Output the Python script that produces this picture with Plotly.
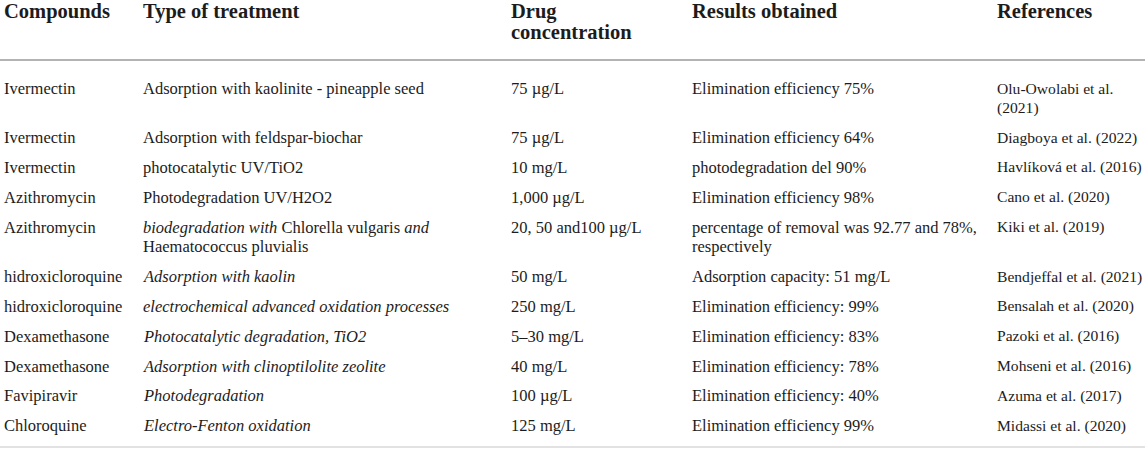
import plotly.graph_objects as go

# table content, one entry per row
headers = ["Compounds", "Type of treatment", "Drug<br>concentration", "Results obtained", "References"]

compounds = [
    "Ivermectin", "Ivermectin", "Ivermectin", "Azithromycin", "Azithromycin",
    "hidroxicloroquine", "hidroxicloroquine", "Dexamethasone", "Dexamethasone",
    "Favipiravir", "Chloroquine",
]
treatments = [
    "Adsorption with kaolinite - pineapple seed",
    "Adsorption with feldspar-biochar",
    "photocatalytic UV/TiO2",
    "Photodegradation UV/H2O2",
    "<i>biodegradation with</i> Chlorella vulgaris <i>and</i><br>Haematococcus pluvialis",
    "<i>Adsorption with kaolin</i>",
    "<i>electrochemical advanced oxidation processes</i>",
    "<i>Photocatalytic degradation, TiO2</i>",
    "<i>Adsorption with clinoptilolite zeolite</i>",
    "<i>Photodegradation</i>",
    "<i>Electro-Fenton oxidation</i>",
]
concentrations = [
    "75 µg/L", "75 µg/L", "10 mg/L", "1,000 µg/L", "20, 50 and100 µg/L",
    "50 mg/L", "250 mg/L", "5–30 mg/L", "40 mg/L", "100 µg/L", "125 mg/L",
]
results = [
    "Elimination efficiency 75%",
    "Elimination efficiency 64%",
    "photodegradation del 90%",
    "Elimination efficiency 98%",
    "percentage of removal was 92.77 and 78%,<br>respectively",
    "Adsorption capacity: 51 mg/L",
    "Elimination efficiency: 99%",
    "Elimination efficiency: 83%",
    "Elimination efficiency: 78%",
    "Elimination efficiency: 40%",
    "Elimination efficiency 99%",
]
references = [
    "Olu-Owolabi et al.<br>(2021)",
    "Diagboya et al. (2022)",
    "Havlíková et al. (2016)",
    "Cano et al. (2020)",
    "Kiki et al. (2019)",
    "Bendjeffal et al. (2021)",
    "Bensalah et al. (2020)",
    "Pazoki et al. (2016)",
    "Mohseni et al. (2016)",
    "Azuma et al. (2017)",
    "Midassi et al. (2020)",
]

columns = [compounds, treatments, concentrations, results, references]

# layout (pixel-like axis units)
W, H = 1145, 452
COL_X = [2, 141, 509, 690, 995]
COL_SIZE = [16.5, 16.5, 16.5, 16.5, 15.6]
HEAD_SIZE = 20.5
HEAD_Y0, HEAD_PITCH = 11, 21
FIRST_ROW_Y = 88
ROW_PITCH = 29.8
LINE_PITCH = 19.8
HEAD_RULE_Y = 60
FOOT_RULE_Y = 447
FONT = "Liberation Serif"
TEXT_COLOR = "#1c1c1c"

fig = go.Figure()
fig.add_trace(go.Scatter(x=[0, W], y=[0, H], mode="markers",
                         marker=dict(opacity=0), hoverinfo="skip", showlegend=False))

annotations = []
for x, label in zip(COL_X, headers):
    for k, line in enumerate(label.split("<br>")):
        annotations.append(dict(
            x=x, y=HEAD_Y0 + k * HEAD_PITCH, xref="x", yref="y",
            text="<b>" + line + "</b>", showarrow=False,
            xanchor="left", yanchor="middle",
            font=dict(family=FONT, size=HEAD_SIZE, color=TEXT_COLOR),
        ))

# row positions follow the number of lines in each row
n_lines = [max(len(col[i].split("<br>")) for col in columns) for i in range(len(compounds))]
row_y = []
y = FIRST_ROW_Y
for n in n_lines:
    row_y.append(y)
    y += ROW_PITCH + LINE_PITCH * (n - 1)

for x, size, col in zip(COL_X, COL_SIZE, columns):
    for i, cell in enumerate(col):
        for k, line in enumerate(cell.split("<br>")):
            annotations.append(dict(
                x=x, y=row_y[i] + k * LINE_PITCH, xref="x", yref="y",
                text=line, showarrow=False,
                xanchor="left", yanchor="middle",
                font=dict(family=FONT, size=size, color=TEXT_COLOR),
            ))

fig.update_layout(
    width=W, height=H,
    margin=dict(l=0, r=0, t=0, b=0),
    paper_bgcolor="white", plot_bgcolor="white",
    xaxis=dict(range=[0, W], visible=False, fixedrange=True),
    yaxis=dict(range=[H, 0], visible=False, fixedrange=True),
    annotations=annotations,
    shapes=[
        dict(type="line", xref="paper", x0=0, x1=1, yref="y",
             y0=HEAD_RULE_Y, y1=HEAD_RULE_Y, line=dict(color="#9a9a9a", width=1.5)),
        dict(type="line", xref="paper", x0=0, x1=1, yref="y",
             y0=FOOT_RULE_Y, y1=FOOT_RULE_Y, line=dict(color="#e2e2e2", width=2)),
    ],
    showlegend=False,
)

fig.write_html("out.html", config={"displayModeBar": False},
               post_script="document.body.style.margin='0';")
